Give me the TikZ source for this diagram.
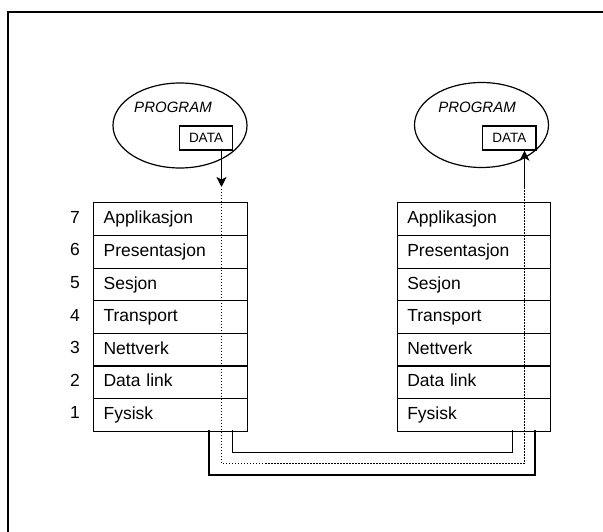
\documentclass[tikz,border=0pt]{standalone}
\usepackage{fontspec}
\setmainfont{Liberation Sans}
\usetikzlibrary{arrows.meta,shapes.geometric}
\begin{document}
\begin{tikzpicture}[x=1pt,y=-1pt,
  rowbox/.style={draw,line width=1.2pt,minimum width=153.5pt,minimum height=32.6pt,
    text width=133.5pt,align=left,inner xsep=10pt,inner ysep=0pt,anchor=north west,
    text height=13pt,text depth=3.5pt,font=\fontsize{17.5}{20}\selectfont},
  numlbl/.style={font=\fontsize{17.5}{20}\selectfont,text height=13pt,text depth=3.5pt,inner sep=0pt},
  prog/.style={draw,line width=1.2pt,ellipse,minimum width=134pt,minimum height=85pt,inner sep=0pt},
  progtxt/.style={font=\itshape\fontsize{15}{17}\selectfont},
  databox/.style={draw,line width=1.2pt,minimum width=53.4pt,minimum height=24pt,inner sep=0pt,font=\fontsize{13.5}{15}\selectfont},
  dots/.style={line width=1.3pt,dash pattern=on 1.3pt off 1.7pt},
  cable/.style={line width=1.2pt},
  flow/.style={line width=1.3pt,-{Stealth[length=10pt,width=10pt,inset=2.5pt]}},
  frame/.style={line width=2pt}]
\useasboundingbox (0,0) rectangle (603,532);
% frame
\coordinate (f1) at (8,540);
\coordinate (f2) at (8,12);
\coordinate (f3) at (610,12);
\draw[frame] (f1) -- (f2) -- (f3);
% programs
\node[prog] (pl) at (180,125.5) {};
\node[progtxt] (plt) at (173,107) {PROGRAM};
\node[databox] (dl) at (206,138) {DATA};
\node[prog] (pr) at (481.5,125) {};
\node[progtxt] (prt) at (477,107) {PROGRAM};
\node[databox] (dr) at (509.3,138) {DATA};
% stacks
\foreach \n/\t [count=\i from 0] in {7/Applikasjon,6/Presentasjon,5/Sesjon,4/Transport,3/Nettverk,2/Data link,1/Fysisk}{
  \node[rowbox] (L\n) at (93,202.3+32.6*\i) {\t};
  \node[numlbl] (N\n) at (75,218.6+32.6*\i) {\n};
  \node[rowbox] (R\n) at (396.7,202.3+32.6*\i) {\t};
}
% dotted data path
\coordinate (lt) at (221.5,187);
\coordinate (ls) at (221.5,189);
\coordinate (lb) at (221.5,463.3);
\coordinate (rb) at (524.5,463.3);
\coordinate (rs) at (524.5,189);
\draw[flow] (dl.south -| lt) -- (lt);
\draw[dots] (ls) -- (lb) -- (rb) -- (rs);
\draw[flow] (rs) -- (dr.south -| rs);
% cable
\coordinate (ci1) at (232.7,430);
\coordinate (ci2) at (232.7,452.3);
\coordinate (ci3) at (512.7,452.3);
\coordinate (ci4) at (512.7,430);
\coordinate (co1) at (209,430);
\coordinate (co2) at (209,475);
\coordinate (co3) at (535,475);
\coordinate (co4) at (535,430);
\draw[cable] (ci1) -- (ci2) -- (ci3) -- (ci4);
\draw[cable] (co1) -- (co2) -- (co3) -- (co4);
\end{tikzpicture}
\end{document}
